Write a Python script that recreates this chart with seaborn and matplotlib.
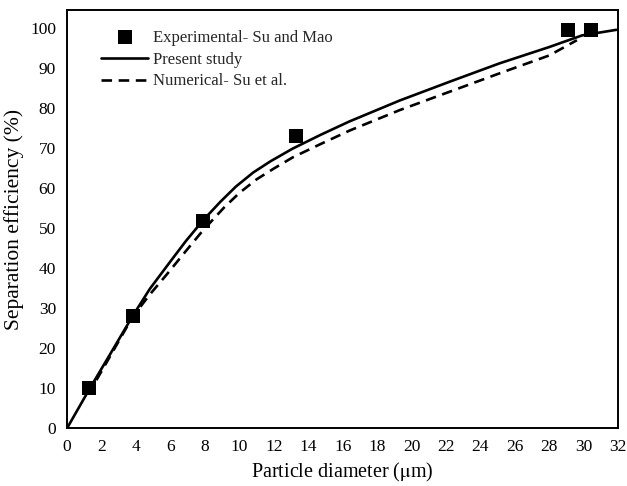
import pandas as pd
import seaborn as sns
import matplotlib.pyplot as plt

sns.set_style("white")
plt.rcParams['font.family'] = ['Liberation Serif', 'DejaVu Serif']
plt.rcParams['mathtext.fontset'] = 'stix'

# experimental data (Su and Mao)
exp_d = [1.3, 3.8, 7.9, 13.3, 29.1, 30.4]
exp_eff = [10.1, 28.0, 51.9, 73.1, 99.6, 99.6]

# present study
pres_d = [0, 1.3, 2.5, 3.8, 4.8, 6.0, 6.9, 7.9, 8.9, 9.8, 10.8, 11.8, 13.1, 14.7,
          16.4, 19.3, 22.2, 25.1, 28.0, 29.9, 31.9]
pres_eff = [0, 9.8, 18.5, 28, 34.8, 41.7, 46.8, 52, 56.6, 60.4, 63.9, 66.7, 69.9, 73.3,
            76.7, 81.9, 86.6, 91.2, 95.3, 98.2, 99.6]

# numerical (Su et al.)
num_d = [1.7, 2.5, 3.8, 4.8, 5.8, 6.9, 7.9, 9.1, 10.0, 11.0, 12.0, 13.1, 14.7,
         16.4, 19.3, 22.2, 25.1, 28.0, 29.6]
num_eff = [12, 18, 27.8, 33.4, 38.5, 44.3, 49.5, 55.1, 58.8, 62.2, 64.9, 67.7, 71.0,
           74.4, 79.5, 84.1, 88.7, 93.2, 97]

df_exp = pd.DataFrame({'d': exp_d, 'eff': exp_eff})
df_pres = pd.DataFrame({'d': pres_d, 'eff': pres_eff})
df_num = pd.DataFrame({'d': num_d, 'eff': num_eff})

fig, ax = plt.subplots(figsize=(6.27, 4.86), dpi=100)
fig.subplots_adjust(left=0.107, right=0.986, bottom=0.119, top=0.979)

sns.scatterplot(data=df_exp, x='d', y='eff', marker='s', s=110, color='black',
                edgecolor='black', linewidth=0, label='Experimental- Su and Mao', ax=ax, zorder=3)
sns.lineplot(data=df_pres, x='d', y='eff', color='black', linewidth=1.9,
             label='Present study', ax=ax, sort=False)
sns.lineplot(data=df_num, x='d', y='eff', color='black', linewidth=1.9,
             linestyle=(0, (4, 2.5)), label='Numerical- Su et al.', ax=ax, sort=False)

ax.set_xlim(0, 32)
ax.set_ylim(0, 104.5)
ax.set_xticks(range(0, 33, 2))
ax.set_yticks(range(0, 101, 10))
ax.tick_params(direction='in', length=4, width=1.2, labelsize=12.5, colors='black', pad=8)
for s in ax.spines.values():
    s.set_color('black')
    s.set_linewidth(1.4)

ax.set_xlabel('Particle diameter ($\\mathrm{\\mu}$m)', fontsize=14.5, color='black')
ax.set_ylabel('Separation efficiency (%)', fontsize=15.5, color='black')

ax.legend(loc='upper left', frameon=False, fontsize=12, handlelength=2.8,
          handletextpad=0.3, labelspacing=0.35, borderaxespad=0.6,
          bbox_to_anchor=(0.032, 0.993))

plt.savefig('out.png', dpi=100)
